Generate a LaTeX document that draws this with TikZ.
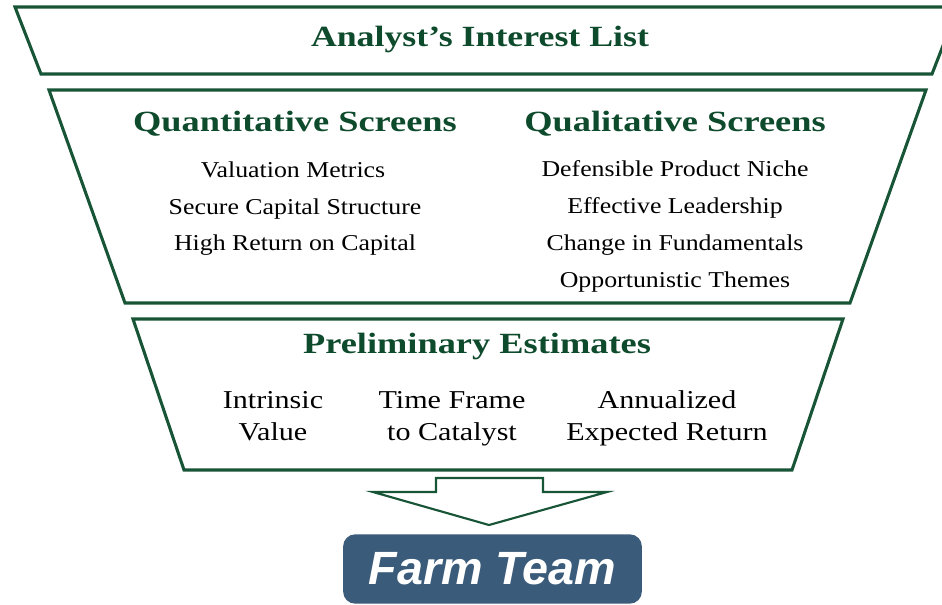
\documentclass[tikz,border=0pt]{standalone}
\usepackage{fontspec}
\setmainfont{Liberation Serif}
\newfontfamily\farmfont{Liberation Sans}
\usetikzlibrary{positioning,calc}
\definecolor{funnelgreen}{RGB}{24,84,54}
\definecolor{textgreen}{RGB}{14,74,44}
\definecolor{farmblue}{RGB}{58,91,122}
\newcommand{\sx}[2][1.14]{\scalebox{#1}[1]{#2}}

\tikzset{
  stage/.style={draw=funnelgreen, line width=2.3pt, line join=miter},
  head/.style={anchor=base, text=textgreen, font=\fontsize{22}{26}\selectfont\bfseries},
  item/.style={anchor=base, font=\fontsize{17}{20}\selectfont},
  est/.style={align=center, font=\fontsize{19.3}{24}\selectfont},
  blockarrow/.style={draw=funnelgreen, line width=1.6pt, line join=miter},
}

\begin{document}
\begin{tikzpicture}[x=0.75pt,y=-0.75pt]
    \useasboundingbox (0,0) rectangle (942,604);

    % Analyst's Interest List
    \draw[stage] (15,7) -- (958,7) -- (932,74) -- (41,74) -- cycle;
    \node[head] (list) at (480,46) {\sx[1.22]{Analyst’s Interest List}};

    % Screens
    \draw[stage] (49,90) -- (926,90) -- (850,303) -- (125,303) -- cycle;
    \node[head] (quant) at (295,131) {\sx[1.24]{Quantitative Screens}};
    \node[head] (qual) at (675,131) {\sx[1.24]{Qualitative Screens}};

    \node[item] (val) at (293,177) {\sx{Valuation Metrics}};
    \node[item] (cap) at (295,214) {\sx{Secure Capital Structure}};
    \node[item] (roc) at (295,250) {\sx{High Return on Capital}};

    \node[item] (niche) at (675,176) {\sx{Defensible Product Niche}};
    \node[item] (lead) at (675,213) {\sx{Effective Leadership}};
    \node[item] (fund) at (675,250) {\sx{Change in Fundamentals}};
    \node[item] (theme) at (675,287) {\sx{Opportunistic Themes}};

    % Preliminary Estimates
    \draw[stage] (133,319) -- (843,319) -- (792,470) -- (184,470) -- cycle;
    \node[head] (prelim) at (477,353) {\sx[1.24]{Preliminary Estimates}};

    \node[est] (iv) at (273,418) {\sx[1.17]{\strut Intrinsic}\\\sx[1.17]{\strut Value}};
    \node[est] (tf) at (452,418) {\sx[1.17]{\strut Time Frame}\\\sx[1.17]{\strut to Catalyst}};
    \node[est] (ret) at (667,418) {\sx[1.17]{\strut Annualized}\\\sx[1.17]{\strut Expected Return}};

    % arrow down to the farm team
    \draw[blockarrow] (436,478) -- (543,478) -- (543,492) -- (607,492)
        -- (489,525) -- (373,492) -- (436,492) -- cycle;

    % Farm Team
    \node[fill=farmblue, rounded corners=9pt, minimum width=224pt, minimum height=52pt,
          text=white, font=\farmfont\bfseries\itshape\fontsize{35}{40}\selectfont]
          (farm) at (492.5,569) {Farm Team};
\end{tikzpicture}
\end{document}
